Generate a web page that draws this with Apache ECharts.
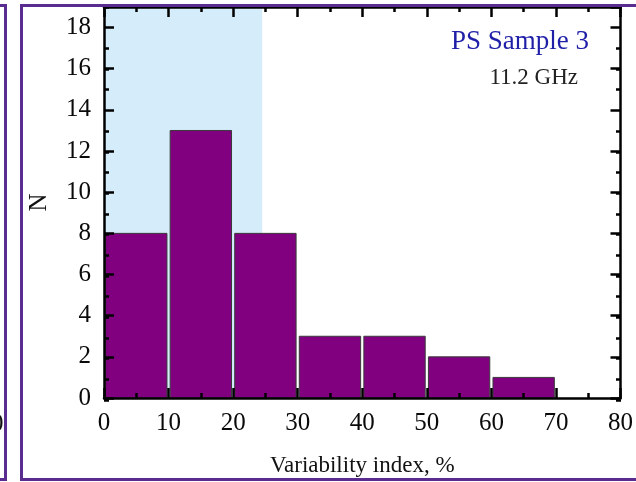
<!DOCTYPE html>
<html>
<head>
<meta charset="utf-8">
<script src="https://cdn.jsdelivr.net/npm/echarts@6/dist/echarts.min.js"></script>
<style>
html,body{margin:0;padding:0;background:#fff;}
#c{width:636px;height:482px;}
</style>
</head>
<body>
<div id="c"></div>
<script>
// Data
var binStarts = [0, 10, 20, 30, 40, 50, 60];
var binWidth = 10;
var counts = [8, 13, 8, 3, 3, 2, 1];
var shadeRange = [0, 24.5];
var xMax = 80;
var yMax = 19;
var titleText = 'PS Sample 3';
var freqText = '11.2 GHz';
var xName = 'Variability index, %';
var yName = 'N';

var FONT = '"Liberation Serif", "Times New Roman", serif';
var chart = echarts.init(document.getElementById('c'), null, {renderer: 'canvas'});

var barData = binStarts.map(function (s, i) { return [s, s + binWidth, counts[i]]; });

function axisBase(gridIndex, pos, showLabel, tickLen, interval, max, showLine, extra) {
  var a = {
    type: 'value', gridIndex: gridIndex, position: pos, min: 0, max: max, interval: interval, z: 10,
    axisLine: {show: showLine, onZero: false, lineStyle: {color: '#000', width: 2.5}},
    axisTick: {show: true, inside: true, length: tickLen, lineStyle: {color: '#000', width: 2.5}},
    axisLabel: {show: showLabel, color: '#0a0a0a', fontFamily: FONT, fontSize: 25},
    splitLine: {show: false}
  };
  for (var k in extra) a[k] = extra[k];
  return a;
}

var xMinor = {show: true, splitNumber: 2, length: 5, lineStyle: {color: '#000', width: 2.5}};
var gridPos = {left: 104, right: 15, top: 7, bottom: 82, containLabel: false};

var option = {
  animation: false,
  backgroundColor: '#fff',
  grid: [gridPos, gridPos],
  xAxis: [
    axisBase(0, 'bottom', true, 10, 10, xMax, true, {minorTick: xMinor,
      axisLabel: {show: true, color: '#0a0a0a', fontFamily: FONT, fontSize: 25, margin: 13},
      name: xName, nameLocation: 'middle', nameGap: 56,
      nameTextStyle: {fontFamily: FONT, fontSize: 23, color: '#111'}}),
    axisBase(0, 'top', false, 10, 10, xMax, true, {minorTick: xMinor}),
    axisBase(1, 'bottom', false, 0, 10, xMax, false, {axisTick: {show: false}}),
    axisBase(1, 'top', false, 0, 10, xMax, false, {axisTick: {show: false}})
  ],
  yAxis: [
    axisBase(0, 'left', true, 10, 2, yMax, true, {
      axisLabel: {show: true, color: '#0a0a0a', fontFamily: FONT, fontSize: 25, margin: 13, showMaxLabel: false},
      name: yName, nameLocation: 'middle', nameGap: 52, nameRotate: 90,
      nameTextStyle: {fontFamily: FONT, fontSize: 25, color: '#111'}}),
    axisBase(0, 'right', false, 10, 2, yMax, true, {}),
    axisBase(1, 'left', false, 5, 1, yMax, false, {}),
    axisBase(1, 'right', false, 5, 1, yMax, false, {})
  ],
  series: [
    {
      type: 'custom', z: 1, silent: true,
      xAxisIndex: 0, yAxisIndex: 0,
      data: [[shadeRange[0], shadeRange[1]]],
      renderItem: function (params, api) {
        var p0 = api.coord([api.value(0), yMax]);
        var p1 = api.coord([api.value(1), 0]);
        return {type: 'rect', shape: {x: p0[0], y: p0[1], width: p1[0] - p0[0], height: p1[1] - p0[1]},
          style: {fill: '#d5edfb'}};
      }
    },
    {
      type: 'custom', z: 2, silent: true,
      xAxisIndex: 0, yAxisIndex: 0,
      data: barData,
      renderItem: function (params, api) {
        var p0 = api.coord([api.value(0), api.value(2)]);
        var p1 = api.coord([api.value(1), 0]);
        var gap = 1.6;
        return {type: 'rect', shape: {x: p0[0] + gap, y: p0[1], width: p1[0] - p0[0] - 2 * gap, height: p1[1] - p0[1]},
          style: {fill: '#800080', stroke: '#3a3a3a', lineWidth: 1}};
      }
    }
  ],
  graphic: [
    {type: 'rect', shape: {x: 21.5, y: 5.5, width: 700, height: 474}, style: {fill: 'none', stroke: '#5b2c8f', lineWidth: 3}, z: 20},
    {type: 'rect', shape: {x: -100, y: 5.5, width: 105.5, height: 474}, style: {fill: 'none', stroke: '#5b2c8f', lineWidth: 3}, z: 20},
    {type: 'text', x: -9, y: 424, style: {text: '0', fontFamily: FONT, fontSize: 25, fill: '#111', textVerticalAlign: 'middle'}, z: 20},
    {type: 'text', x: 589, y: 42, style: {text: titleText, fontFamily: FONT, fontSize: 27, fill: '#1f1fa8', textAlign: 'right', textVerticalAlign: 'middle'}, z: 20},
    {type: 'text', x: 578, y: 78, style: {text: freqText, fontFamily: FONT, fontSize: 23, fill: '#222', textAlign: 'right', textVerticalAlign: 'middle'}, z: 20}
  ]
};
chart.setOption(option);
</script>
</body>
</html>
